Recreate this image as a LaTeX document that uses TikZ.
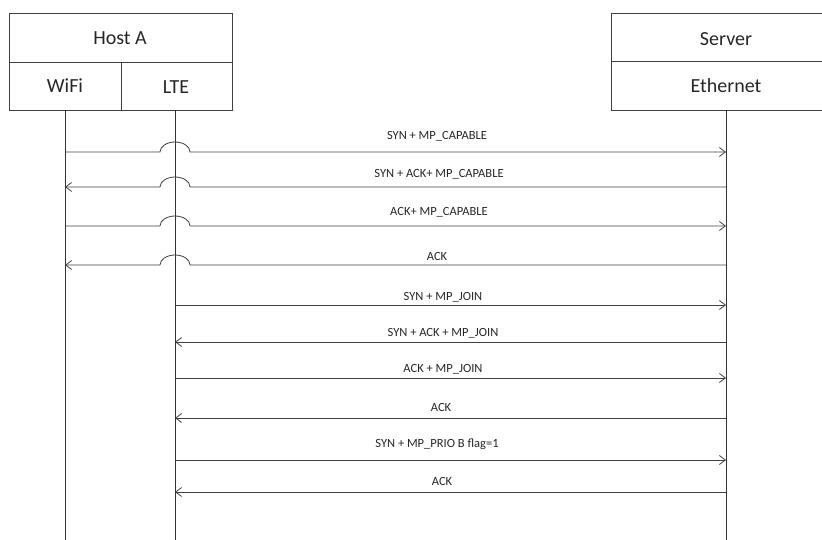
\documentclass[tikz,border=0pt]{standalone}
\usepackage{fontspec}
\setmainfont{Carlito}
\usetikzlibrary{arrows.meta}
\begin{document}
\begin{tikzpicture}[x=1pt,y=-1pt,
  box/.style={draw=black!75,line width=0.8pt,inner sep=0pt,anchor=north west},
  head/.style={font=\fontsize{20}{22}\selectfont,text=black!85},
  lbl/.style={font=\fontsize{12.5}{14}\selectfont,text=black!85,inner sep=0pt},
  life/.style={draw=black!80,line width=0.8pt},
  msg/.style={draw=black!75,line width=0.8pt,-{Straight Barb[length=6pt,width=9pt]}},
  jr/.style={x radius=15pt,y radius=10pt}]
\useasboundingbox (0,0) rectangle (822,540);
% Host A box
\node[box,minimum width=223pt,minimum height=49pt] (hostbox) at (9,13) {};
\node[box,minimum width=112pt,minimum height=48.5pt] (wifibox) at (9,62) {};
\node[box,minimum width=111pt,minimum height=48.5pt] (ltebox) at (121,62) {};
\node[head] (hostA) at (120,38) {Host A};
\node[head] (wifi) at (65,86) {WiFi};
\node[head] (lte) at (176,87) {LTE};
% Server box
\node[box,minimum width=230pt,minimum height=48pt] (serverbox) at (611,13) {};
\node[box,minimum width=230pt,minimum height=49pt] (ethbox) at (611,61) {};
\node[head] (server) at (726,39) {Server};
\node[head] (eth) at (726,86) {Ethernet};
% lifelines
\coordinate (wtop) at (65,110.5);
\coordinate (ltop) at (175,110.5);
\coordinate (etop) at (726,110);
\coordinate (wbot) at (65,545);
\coordinate (lbot) at (175,545);
\coordinate (ebot) at (726,545);
\draw[life] (wtop) -- (wbot);
\draw[life] (ltop) -- (lbot);
\draw[life] (etop) -- (ebot);
% message coordinates
\foreach \i/\y in {1/152,2/187,3/226,4/265,5/305,6/342,7/378,8/418,9/460,10/492}{
  \coordinate (w\i) at (65,\y);
  \coordinate (l\i) at (175,\y);
  \coordinate (e\i) at (726,\y);
}
% WiFi messages with jumps over LTE
\draw[msg] (w1) -- ([xshift=-15pt]l1) arc[start angle=180,end angle=0,jr] -- (e1);
\draw[msg] (e2) -- ([xshift=15pt]l2) arc[start angle=0,end angle=180,jr] -- (w2);
\draw[msg] (w3) -- ([xshift=-15pt]l3) arc[start angle=180,end angle=0,jr] -- (e3);
\draw[msg] (e4) -- ([xshift=15pt]l4) arc[start angle=0,end angle=180,jr] -- (w4);
% LTE messages
\draw[msg] (l5) -- (e5);
\draw[msg] (e6) -- (l6);
\draw[msg] (l7) -- (e7);
\draw[msg] (e8) -- (l8);
\draw[msg] (l9) -- (e9);
\draw[msg] (e10) -- (l10);
% labels
\node[lbl] (t1) at (437,136) {SYN + MP\_CAPABLE};
\node[lbl] (t2) at (439,174) {SYN + ACK+ MP\_CAPABLE};
\node[lbl] (t3) at (439,212) {ACK+ MP\_CAPABLE};
\node[lbl] (t4) at (437,256) {ACK};
\node[lbl] (t5) at (443,297) {SYN + MP\_JOIN};
\node[lbl] (t6) at (443,333) {SYN + ACK + MP\_JOIN};
\node[lbl] (t7) at (443,369) {ACK + MP\_JOIN};
\node[lbl] (t8) at (441,407) {ACK};
\node[lbl] (t9) at (437,444) {SYN + MP\_PRIO B flag=1};
\node[lbl] (t10) at (442,481) {ACK};
\end{tikzpicture}
\end{document}
